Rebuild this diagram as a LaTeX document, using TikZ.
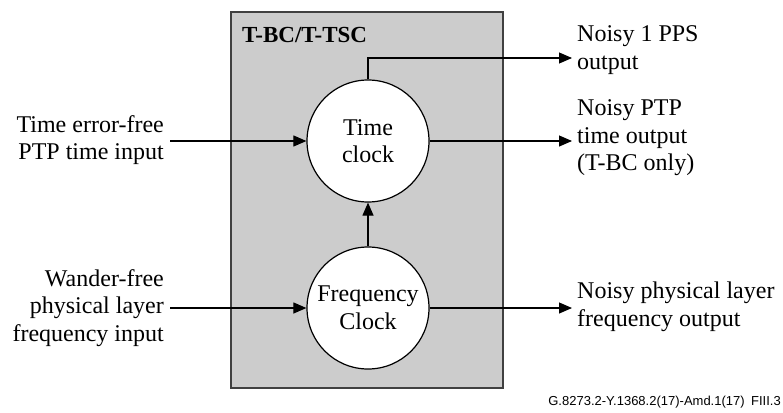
\documentclass[tikz,border=0pt]{standalone}
\usepackage{fontspec}
\setmainfont{Liberation Serif}
\setsansfont{Liberation Sans}
\usepackage{tikz}
\usetikzlibrary{arrows.meta,positioning}
\tikzset{>={Triangle[length=13pt,width=11pt]}}

\begin{document}
\begin{tikzpicture}[x=1pt,y=-1pt,
                          box/.style={draw=black!75, line width=1.3pt, fill=gray!40},
                          clock/.style={circle, draw=black, line width=1.2pt, fill=white, minimum size=122pt, inner sep=0pt, align=center, font=\fontsize{24}{27.5}\selectfont},
                          sig/.style={line width=1.1pt, black, ->},
                          lbl/.style={inner sep=0pt, font=\fontsize{24}{27.5}\selectfont},
                         ]

\useasboundingbox (0,0) rectangle (783,412);

\draw[box] (231,12) rectangle (503,388);
\node[lbl, anchor=west, font=\fontsize{23}{27}\selectfont\bfseries] (title) at (242,35) {T-BC/T-TSC};

\node[clock] (time) at (368,141) {Time\\clock};
\node[clock] (freq) at (368,308) {Frequency\\Clock};

\coordinate (tin) at (170,141);
\coordinate (fin) at (170,308);
\coordinate (ppscorner) at (368,58);
\coordinate (ppsout) at (572,58);
\coordinate (ptpout) at (572,141);
\coordinate (fout) at (572,308);

\draw[sig] (tin) -- (time);
\draw[sig] (fin) -- (freq);
\draw[sig] (freq) -- (time);
\draw[sig] (time.north) -- (ppscorner) -- (ppsout);
\draw[sig] (time) -- (ptpout);
\draw[sig] (freq) -- (fout);

\node[lbl, anchor=east, align=right] (tinlbl) at (164,140) {Time error-free\\PTP time input};
\node[lbl, anchor=east, align=right] (finlbl) at (164,308) {Wander-free\\physical layer\\frequency input};
\node[lbl, anchor=west, align=left] (ppslbl) at (577,50) {Noisy 1 PPS\\output};
\node[lbl, anchor=west, align=left] (ptplbl) at (577,138) {Noisy PTP\\time output\\(T-BC only)};
\node[lbl, anchor=west, align=left] (foutlbl) at (577,307) {Noisy physical layer\\frequency output};

\node[anchor=base east, inner sep=0pt, font=\sffamily\fontsize{13}{15}\selectfont] (ref) at (781,405) {G.8273.2-Y.1368.2(17)-Amd.1(17)\enspace FIII.3};

\end{tikzpicture}
\end{document}
